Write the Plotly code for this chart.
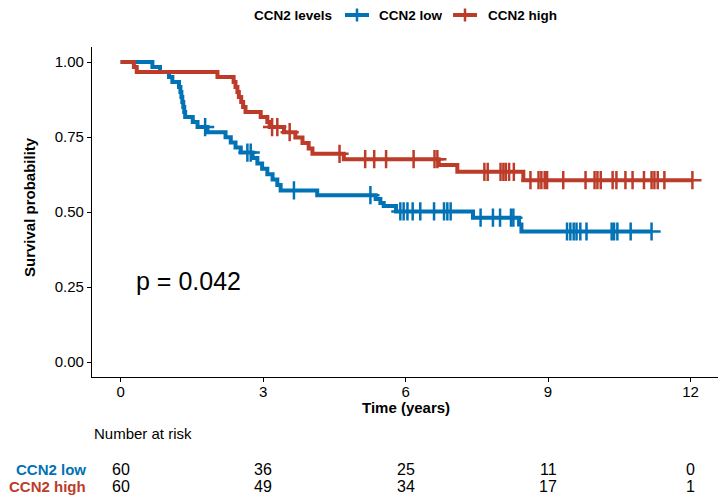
import numpy as np
import plotly.graph_objects as go

# ---------------- data ----------------
low_times = [0, 0.67, 0.83, 1.02, 1.09, 1.23, 1.26, 1.28, 1.30, 1.32, 1.34, 1.36, 1.52, 1.62,
             1.83, 2.21, 2.32, 2.42, 2.53, 2.78, 2.88, 2.98, 3.09, 3.20, 3.30, 3.37, 4.14,
             5.37, 5.47, 5.54, 5.80, 7.42, 8.39, 8.44]
low_surv = [1.0, 0.983, 0.967, 0.950, 0.933, 0.917, 0.900, 0.883, 0.867, 0.850, 0.833, 0.817,
            0.800, 0.783, 0.766, 0.749, 0.732, 0.715, 0.698, 0.680, 0.662, 0.644, 0.626, 0.608,
            0.590, 0.572, 0.556, 0.543, 0.530, 0.520, 0.502, 0.481, 0.458, 0.435]
low_censor = [1.78, 2.67, 2.74, 3.65, 5.26, 5.89, 5.96, 6.04, 6.15, 6.31, 6.60, 6.81, 6.88,
              6.95, 7.58, 7.84, 7.99, 8.22, 8.27, 9.40, 9.47, 9.54, 9.60, 9.68, 9.81, 10.34,
              10.39, 10.46, 10.74, 11.18]

high_times = [0, 0.28, 0.34, 2.04, 2.38, 2.42, 2.46, 2.49, 2.54, 2.58, 2.63, 2.95, 3.09, 3.14,
              3.44, 3.68, 3.83, 3.96, 4.04, 4.70, 6.70, 7.09, 8.48]
high_surv = [1.0, 0.983, 0.967, 0.950, 0.933, 0.917, 0.900, 0.883, 0.867, 0.850, 0.833, 0.817,
             0.800, 0.783, 0.766, 0.748, 0.730, 0.712, 0.694, 0.676, 0.657, 0.634, 0.606]
high_censor = [3.19, 3.30, 3.56, 4.61, 5.15, 5.34, 5.59, 6.17, 6.61, 6.67, 7.66, 7.73, 8.00,
               8.06, 8.11, 8.18, 8.28, 8.63, 8.80, 8.86, 8.93, 8.98, 9.32, 9.79, 9.98, 10.04,
               10.11, 10.36, 10.44, 10.63, 10.78, 11.02, 11.18, 11.24, 11.31, 11.45, 12.04]

legend_title = "CCN2 levels"
group_names = ["CCN2 low", "CCN2 high"]
risk_times = [0, 3, 6, 9, 12]
low_risk = [60, 36, 25, 11, 0]
high_risk = [60, 49, 34, 17, 1]
x_ticks = [0, 3, 6, 9, 12]
y_ticks = [0, 0.25, 0.5, 0.75, 1.0]
y_tick_labels = ["0.00", "0.25", "0.50", "0.75", "1.00"]
p_text = "p = 0.042"

BLUE = "#0072B5"
RED = "#BC3C29"
FONT = "Liberation Sans, Arial, sans-serif"

fig = go.Figure()


def step_at(times, surv, t):
    idx = np.searchsorted(np.array(times), t, side="right") - 1
    return surv[idx]


for name, times, surv, cens, col in [
    (group_names[0], low_times, low_surv, low_censor, BLUE),
    (group_names[1], high_times, high_surv, high_censor, RED),
]:
    end_t = max(max(times), max(cens))
    xs = list(times) + [end_t]
    ys = list(surv) + [surv[-1]]
    fig.add_trace(go.Scatter(x=xs, y=ys, mode="lines", name=name,
                             line=dict(color=col, width=4, shape="hv"),
                             showlegend=False, hoverinfo="skip"))
    cy = [step_at(times, surv, t) for t in cens]
    fig.add_trace(go.Scatter(x=cens, y=cy, mode="markers", name=name,
                             marker=dict(symbol="cross-thin", size=13,
                                         line=dict(color=col, width=2.5)),
                             showlegend=False, hoverinfo="skip"))

x_max = 12.04
OFF = 8                      # page body margin
W, H = 718, 492              # figure size (page 726x500 minus body margin)
PL, PR, PT = 92 - OFF, 5, 47 - OFF
PB = H - (377 - OFF)
pw = W - PL - PR
ph = H - PT - PB


def py(p):
    return (H - PB - (p - OFF)) / ph


def px(p):
    return (p - OFF - PL) / pw


annotations = []
shapes = []
annotations.append(dict(x=0.29, y=0.269, xref="x", yref="y", text=p_text, showarrow=False,
                        xanchor="left", yanchor="middle", font=dict(size=25, color="black", family=FONT)))
annotations.append(dict(x=px(29), y=py(207), xref="paper", yref="paper", text="<b>Survival probability</b>",
                        textangle=-90, showarrow=False, xanchor="center", yanchor="middle",
                        font=dict(size=15, color="black", family=FONT)))
annotations.append(dict(x=6, y=py(407), xref="x", yref="paper", text="<b>Time (years)</b>",
                        showarrow=False, xanchor="center", yanchor="middle",
                        font=dict(size=15, color="black", family=FONT)))
annotations.append(dict(x=px(92), y=py(433), xref="paper", yref="paper", text="Number at risk",
                        showarrow=False, xanchor="left", yanchor="middle",
                        font=dict(size=15, color="black", family=FONT)))
for name, risks, col, ypix in [(group_names[0], low_risk, BLUE, 469), (group_names[1], high_risk, RED, 486)]:
    annotations.append(dict(x=px(88), y=py(ypix), xref="paper", yref="paper", text="<b>%s</b>" % name,
                            showarrow=False, xanchor="right", yanchor="middle",
                            font=dict(size=15, color=col, family=FONT)))
    for t, r in zip(risk_times, risks):
        annotations.append(dict(x=t, y=py(ypix), xref="x", yref="paper", text=str(r),
                                showarrow=False, xanchor="center", yanchor="middle",
                                font=dict(size=16, color="black", family=FONT)))

# legend drawn at the top (title, cross keys, labels)
LEG_Y = 15
annotations.append(dict(x=px(252), y=py(LEG_Y), xref="paper", yref="paper", text="<b>%s</b>" % legend_title,
                        showarrow=False, xanchor="left", yanchor="middle",
                        font=dict(size=13.5, color="black", family=FONT)))
for name, col, kx0, tx in [(group_names[0], BLUE, 345, 377), (group_names[1], RED, 453, 486)]:
    shapes.append(dict(type="line", xref="paper", yref="paper", x0=px(kx0), x1=px(kx0 + 24),
                       y0=py(LEG_Y), y1=py(LEG_Y), line=dict(color=col, width=4)))
    shapes.append(dict(type="line", xref="paper", yref="paper", x0=px(kx0 + 12), x1=px(kx0 + 12),
                       y0=py(LEG_Y - 6.5), y1=py(LEG_Y + 6.5), line=dict(color=col, width=2.5)))
    annotations.append(dict(x=px(tx), y=py(LEG_Y), xref="paper", yref="paper", text="<b>%s</b>" % name,
                            showarrow=False, xanchor="left", yanchor="middle",
                            font=dict(size=13.5, color="black", family=FONT)))

fig.update_layout(
    width=W, height=H,
    margin=dict(l=PL, r=PR, t=PT, b=PB, autoexpand=False),
    paper_bgcolor="white", plot_bgcolor="white",
    font=dict(family=FONT, color="black"),
    showlegend=False,
    annotations=annotations,
    shapes=shapes,
    xaxis=dict(range=[-0.05 * x_max, 1.05 * x_max], tickvals=x_ticks, ticktext=[str(v) for v in x_ticks],
               showline=True, linecolor="black", linewidth=1.3, ticks="outside", ticklen=4,
               tickcolor="black", tickwidth=1.2, showgrid=False, zeroline=False,
               ticklabelstandoff=-3,
               tickfont=dict(size=15, color="black", family=FONT)),
    yaxis=dict(range=[-0.05, 1.05], tickvals=y_ticks, ticktext=y_tick_labels,
               showline=True, linecolor="black", linewidth=1.3, ticks="outside", ticklen=4,
               tickcolor="black", tickwidth=1.2, showgrid=False, zeroline=False,
               tickfont=dict(size=15, color="black", family=FONT)),
)

fig.write_html("out.html")
